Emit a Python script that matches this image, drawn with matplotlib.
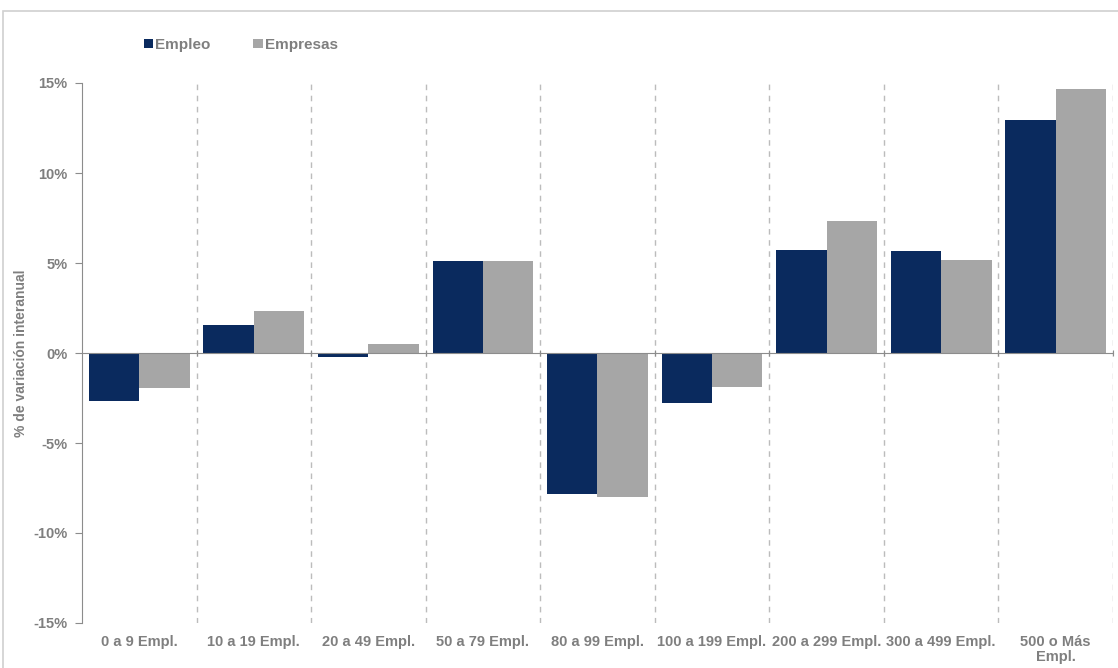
import matplotlib.pyplot as plt
import matplotlib.transforms as mtransforms
from matplotlib.patches import Rectangle
import numpy as np

plt.rcParams['font.family'] = ['Liberation Sans', 'DejaVu Sans']

categorias = ['0 a 9 Empl.', '10 a 19 Empl.', '20 a 49 Empl.', '50 a 79 Empl.',
              '80 a 99 Empl.', '100 a 199 Empl.', '200 a 299 Empl.',
              '300 a 499 Empl.', '500 o Más\nEmpl.']
empleo = [-2.67, 1.56, -0.22, 5.11, -7.83, -2.78, 5.72, 5.67, 12.94]
empresas = [-1.94, 2.33, 0.50, 5.11, -8.00, -1.89, 7.33, 5.17, 14.67]
ticks_y = [-15, -10, -5, 0, 5, 10, 15]

azul = '#0a2a5e'
gris = '#a6a6a6'
texto = '#7f7f7f'

fig = plt.figure(figsize=(11.18, 6.68), dpi=100)
ax = fig.add_axes([82 / 1118, 1 - 623 / 668, (1113 - 82) / 1118, 540 / 668])

# marco exterior del gráfico
fig.patches.append(Rectangle((3 / 1118, -0.1), 1.2, 1 - 11 / 668 + 0.1,
                             transform=fig.transFigure, fill=False,
                             edgecolor='#d0d0d0', linewidth=1.2))

x = np.arange(len(categorias))
w = 0.44
ax.bar(x - w / 2, empleo, width=w, color=azul, label='Empleo', zorder=3)
ax.bar(x + w / 2, empresas, width=w, color=gris, label='Empresas', zorder=3)

# separadores entre grupos
for s in np.arange(0.5, len(categorias), 1.0):
    ax.axvline(s, color='#bcbcbc', linestyle=(0, (4, 4)), linewidth=1, zorder=1)

ax.set_xlim(-0.5, len(categorias) - 0.5)
ax.set_ylim(-15, 15)
ax.set_yticks(ticks_y)
ax.set_yticklabels([f'{t}%' for t in ticks_y])

for side in ['top', 'right']:
    ax.spines[side].set_visible(False)
ax.spines['left'].set_color('#8c8c8c')
ax.spines['bottom'].set_position(('data', 0))
ax.spines['bottom'].set_color('#8c8c8c')
ax.spines['bottom'].set_zorder(4)
ax.set_xticks(np.arange(0.5, len(categorias), 1.0))
ax.set_xticklabels([])
ax.tick_params(axis='x', length=5, color='#8c8c8c', direction='inout')
ax.tick_params(axis='y', length=5, color='#8c8c8c', labelcolor=texto,
               labelsize=10.5, pad=5.5)
for lbl in ax.get_yticklabels():
    lbl.set_fontweight('bold')

trans = mtransforms.blended_transform_factory(ax.transData, ax.transAxes)
for xi, cat in zip(x, categorias):
    ax.text(xi, -0.022, cat, transform=trans, ha='center', va='top',
            fontsize=10.5, fontweight='bold', color=texto, linespacing=1.1)

ax.set_ylabel('% de variación interanual', color=texto, fontsize=10,
              fontweight='bold')
ax.yaxis.set_label_coords(-0.052, 0.5)

leg = fig.legend(loc='upper left', bbox_to_anchor=(130 / 1118, 1 - 24 / 668),
                 ncol=2, frameon=False, handlelength=0.6, handleheight=0.6,
                 handletextpad=0.15, columnspacing=2.8,
                 prop={'weight': 'bold', 'size': 11})
for t in leg.get_texts():
    t.set_color(texto)

fig.savefig('out.png', dpi=100)
